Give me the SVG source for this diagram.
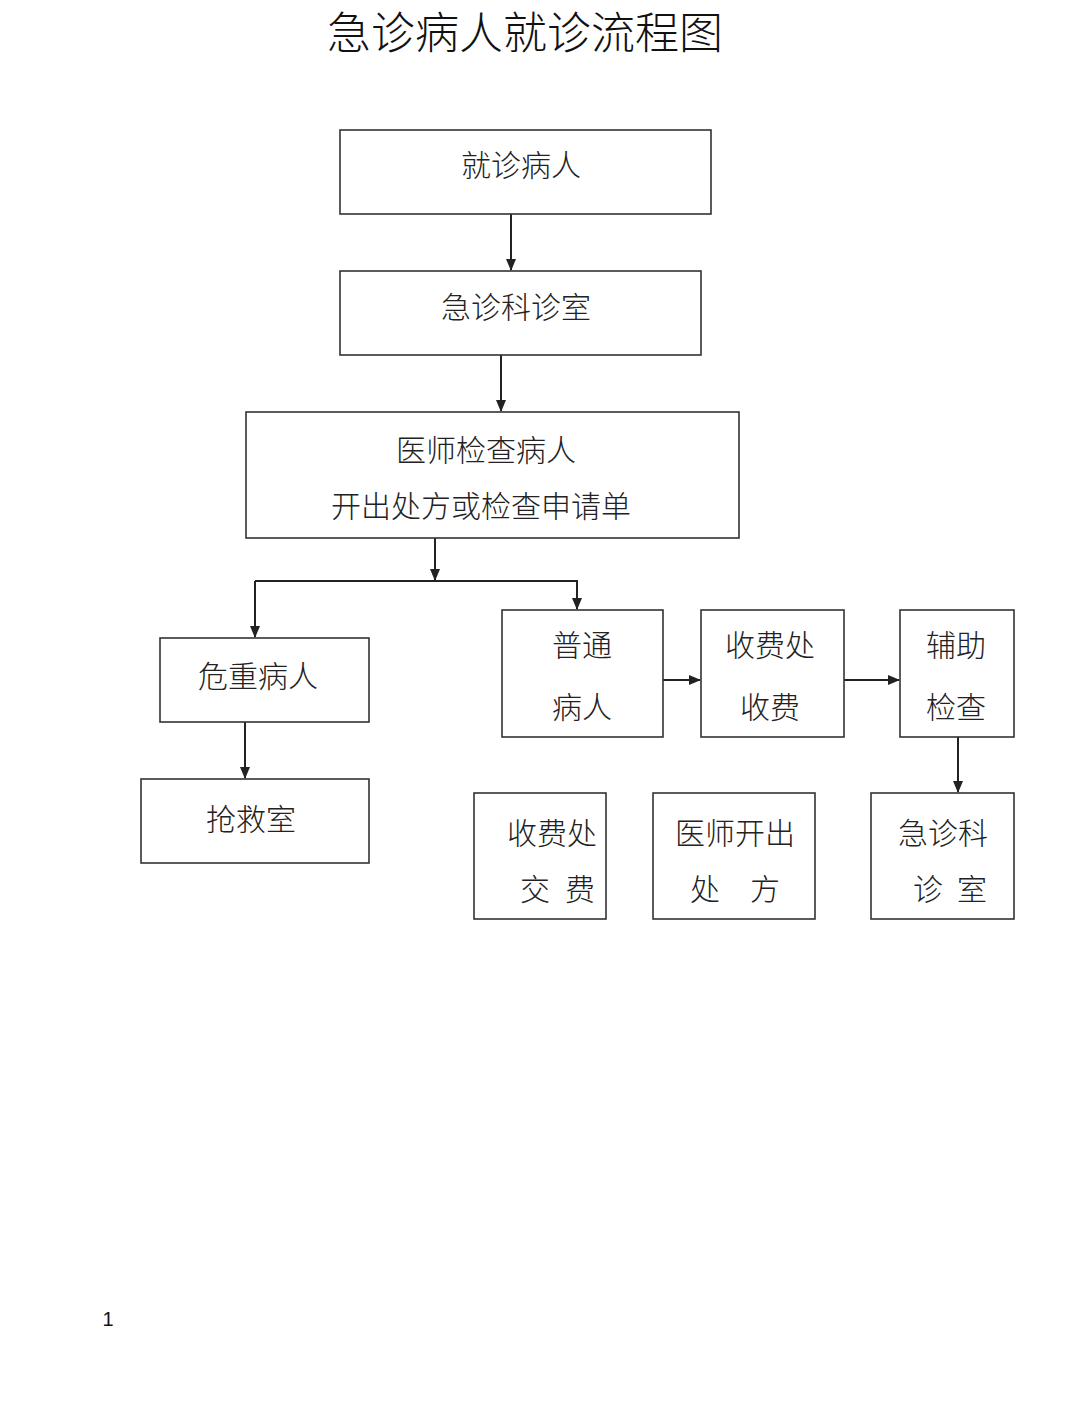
<svg xmlns="http://www.w3.org/2000/svg" width="1080" height="1408" viewBox="0 0 1080 1408">
<style>
.box{fill:#fff;stroke:#333;stroke-width:1.6}
.t{font-family:"Noto Sans CJK SC","Noto Sans CJK JP",sans-serif;font-size:30px;fill:#222;text-anchor:middle;font-weight:300}
.title{font-family:"Noto Sans CJK SC","Noto Sans CJK JP",sans-serif;font-size:44px;fill:#111;text-anchor:middle;font-weight:300}
.ln{fill:none;stroke:#222;stroke-width:2}
</style>
<defs>
<marker id="ah" markerWidth="12" markerHeight="12" refX="11" refY="6" orient="auto" markerUnits="userSpaceOnUse">
<path d="M0,1 L12,6 L0,11 Z" fill="#222"/>
</marker>
</defs>
<rect width="1080" height="1408" fill="#fff"/>
<text class="title" x="525" y="49">急诊病人就诊流程图</text>

<g id="connectors">
<line class="ln" x1="511" y1="214" x2="511" y2="270" marker-end="url(#ah)"/>
<line class="ln" x1="501" y1="355" x2="501" y2="411" marker-end="url(#ah)"/>
<line class="ln" x1="435" y1="538" x2="435" y2="580" marker-end="url(#ah)"/>
<polyline class="ln" points="255,581 577,581 577,609" marker-end="url(#ah)"/>
<line class="ln" x1="255" y1="581" x2="255" y2="637" marker-end="url(#ah)"/>
<line class="ln" x1="245" y1="722" x2="245" y2="778" marker-end="url(#ah)"/>
<line class="ln" x1="663" y1="680" x2="700" y2="680" marker-end="url(#ah)"/>
<line class="ln" x1="844" y1="680" x2="899" y2="680" marker-end="url(#ah)"/>
<line class="ln" x1="958" y1="737" x2="958" y2="792" marker-end="url(#ah)"/>
</g>

<g id="n1"><rect class="box" x="340" y="130" width="371" height="84"/><text class="t" x="521" y="176">就诊病人</text></g>
<g id="n2"><rect class="box" x="340" y="271" width="361" height="84"/><text class="t" x="516" y="318">急诊科诊室</text></g>
<g id="n3"><rect class="box" x="246" y="412" width="493" height="126"/><text class="t" x="486" y="461">医师检查病人</text><text class="t" x="481" y="517">开出处方或检查申请单</text></g>
<g id="n4"><rect class="box" x="160" y="638" width="209" height="84"/><text class="t" x="258" y="687">危重病人</text></g>
<g id="n5"><rect class="box" x="141" y="779" width="228" height="84"/><text class="t" x="251" y="830">抢救室</text></g>
<g id="n6"><rect class="box" x="502" y="610" width="161" height="127"/><text class="t" x="582" y="656">普通</text><text class="t" x="582" y="718">病人</text></g>
<g id="n7"><rect class="box" x="701" y="610" width="143" height="127"/><text class="t" x="770" y="656">收费处</text><text class="t" x="770" y="718">收费</text></g>
<g id="n8"><rect class="box" x="900" y="610" width="114" height="127"/><text class="t" x="956" y="656">辅助</text><text class="t" x="956" y="718">检查</text></g>
<g id="n9"><rect class="box" x="474" y="793" width="132" height="126"/><text class="t" x="552" y="844">收费处</text><text class="t" y="900"><tspan x="535">交</tspan><tspan x="580">费</tspan></text></g>
<g id="n10"><rect class="box" x="653" y="793" width="162" height="126"/><text class="t" x="735" y="844">医师开出</text><text class="t" y="900"><tspan x="705">处</tspan><tspan x="765">方</tspan></text></g>
<g id="n11"><rect class="box" x="871" y="793" width="143" height="126"/><text class="t" x="943" y="844">急诊科</text><text class="t" y="900"><tspan x="928">诊</tspan><tspan x="972">室</tspan></text></g>

<text x="108" y="1326" font-family="Liberation Sans, Arial, sans-serif" font-size="20" fill="#111" text-anchor="middle">1</text>
</svg>
